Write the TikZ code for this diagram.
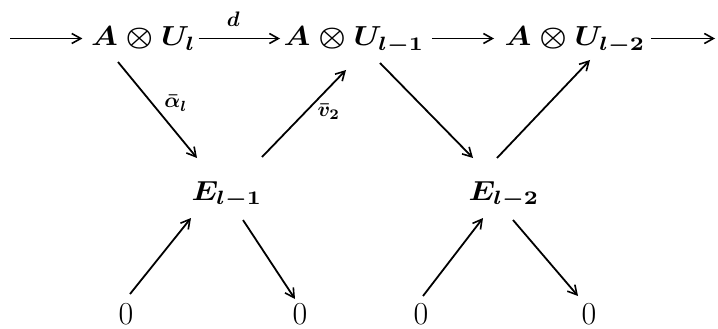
\RequirePackage{fix-cm}
\documentclass[tikz,border=0pt]{standalone}
\usepackage{amsmath,bm}
\usetikzlibrary{arrows.meta,calc}
\tikzset{
  obj/.style={inner sep=0pt, anchor=base, scale=2.75, xscale=1.12, font=\boldmath},
  zero/.style={inner sep=0pt, anchor=base, font=\fontsize{32}{38}\selectfont},
  lab/.style={inner sep=0pt, anchor=center, scale=2.1, font=\boldmath},
  arr/.style={-{Straight Barb[length=9pt,width=10pt,line width=1.6pt]}, line width=1.8pt}
}
\begin{document}
\begin{tikzpicture}[x=1pt,y=-1pt]
\useasboundingbox (0,0) rectangle (718,329);
% top row
\node[obj] (n1) at (143.5,46) {$A\otimes U_l$};
\node[obj] (n2) at (354,46) {$A\otimes U_{l-1}$};
\node[obj] (n3) at (575,46) {$A\otimes U_{l-2}$};
% middle
\node[obj] (e1) at (227,200) {$E_{l-1}$};
\node[obj] (e2) at (504,200) {$E_{l-2}$};
% bottom
\node[zero] (z1) at (126,324) {0};
\node[zero] (z2) at (300,324) {0};
\node[zero] (z3) at (421,324) {0};
\node[zero] (z4) at (589,324) {0};
% free ends
\coordinate (l0) at (10,38.5);
\coordinate (r0) at (715,38.5);
% horizontal arrows
\draw[arr] (l0) -- ([xshift=-8pt,yshift=7.5pt]n1.base west);
\draw[arr] ([xshift=2pt,yshift=7.5pt]n1.base east) -- node[lab,xshift=-2.9pt,yshift=9pt]{$d$} ([xshift=-3pt,yshift=7.5pt]n2.base west);
\draw[arr] ([xshift=7pt,yshift=7.5pt]n2.base east) -- ([xshift=-10pt,yshift=7.5pt]n3.base west);
\draw[arr] ([xshift=5pt,yshift=7.5pt]n3.base east) -- (r0);
% diagonals
\draw[arr] ([xshift=-25.5pt,yshift=-16pt]n1.base) -- node[lab,pos=0.43,xshift=11.4pt]{$\bar{\bm\alpha}_l$} ([xshift=-30pt,yshift=42pt]e1.base);
\draw[arr] ([xshift=35pt,yshift=43pt]e1.base) -- node[lab,pos=0.52,xshift=11pt]{$\bar{\bm v}_2$} ([xshift=-8pt,yshift=-24pt]n2.base);
\draw[arr] ([xshift=26pt,yshift=-17pt]n2.base) -- ([xshift=-31pt,yshift=42pt]e2.base);
\draw[arr] ([xshift=-7pt,yshift=42pt]e2.base) -- ([xshift=15pt,yshift=-14pt]n3.base);
% bottom arrows
\draw[arr] ([xshift=4pt,yshift=30pt]z1.base) -- ([xshift=-36pt,yshift=-18pt]e1.base);
\draw[arr] ([xshift=16pt,yshift=-20pt]e1.base) -- ([xshift=-5pt,yshift=25pt]z2.base);
\draw[arr] ([xshift=2pt,yshift=28pt]z3.base) -- ([xshift=-21pt,yshift=-18pt]e2.base);
\draw[arr] ([xshift=9pt,yshift=-20pt]e2.base) -- ([xshift=-11pt,yshift=28pt]z4.base);
\end{tikzpicture}
\end{document}
